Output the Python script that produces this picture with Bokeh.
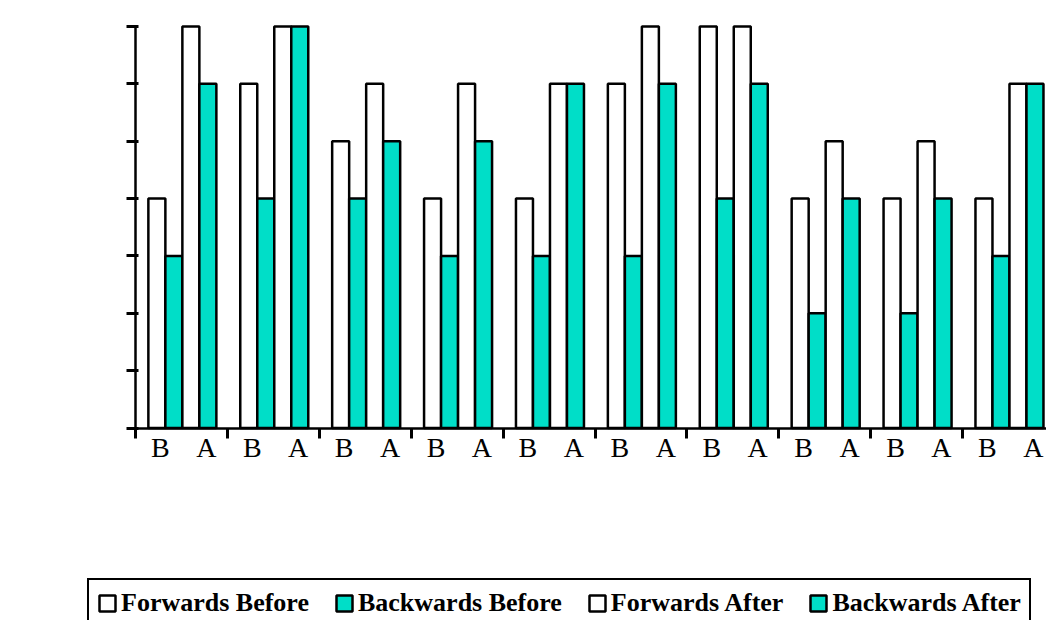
import numpy as np
from bokeh.plotting import figure
from bokeh.models import (Range1d, FixedTicker, CustomJSTickFormatter, Legend,
                          LegendItem, ColumnDataSource, LinearAxis)
from bokeh.core.properties import value
from bokeh.embed import file_html
from bokeh.resources import INLINE

# ---- data -------------------------------------------------------------
groups = list(range(10))
forwards_before = [4, 6, 5, 4, 4, 6, 7, 4, 4, 4]
backwards_before = [3, 4, 4, 3, 3, 3, 4, 2, 2, 3]
forwards_after = [7, 7, 6, 6, 6, 7, 7, 5, 5, 6]
backwards_after = [6, 7, 5, 5, 6, 6, 6, 4, 4, 6]
series_names = ["Forwards Before", "Backwards Before", "Forwards After", "Backwards After"]
sub_labels = ["B", "A"]          # before / after marker under each pair
y_ticks = list(range(8))
y_max = 7

TEAL = "#00DEC8"
series = [forwards_before, backwards_before, forwards_after, backwards_after]
fills = ["white", TEAL, "white", TEAL]

BAR_W = 0.185
offsets = [-1.5 * BAR_W, -0.5 * BAR_W, 0.5 * BAR_W, 1.5 * BAR_W]

# The frame covers the whole lower part of the canvas so the labels and the
# legend under the axis line live inside it; the axes are pinned at zero.
PX_X = 91.9      # pixels per group
PX_Y = 57.357    # pixels per unit
LEFT, TOP, ZERO_X, ZERO_Y, W, H = 60, 24, 135, 427.5, 1046, 620

x_range = Range1d(-(ZERO_X - LEFT) / PX_X, (W - ZERO_X) / PX_X)
y_range = Range1d(-(H - ZERO_Y) / PX_Y, y_max + (ZERO_Y - y_max * PX_Y - TOP) / PX_Y)

p = figure(width=W, height=H, output_backend="svg", toolbar_location=None,
           x_range=x_range, y_range=y_range,
           x_axis_location=None, y_axis_location=None,
           min_border_left=LEFT, min_border_right=0,
           min_border_top=TOP, min_border_bottom=0)
p.outline_line_color = None
p.background_fill_color = "white"
p.border_fill_color = "white"
p.xgrid.visible = False
p.ygrid.visible = False

renderers = []
gx = np.array(groups, dtype=float) + 0.51
for vals, fill, off in zip(series, fills, offsets):
    src = ColumnDataSource(dict(x=gx + off, top=vals))
    r = p.vbar(x="x", top="top", width=BAR_W, source=src,
               fill_color=fill, line_color="black", line_width=2.5)
    renderers.append(r)

# ---- y axis -----------------------------------------------------------
yax = LinearAxis(fixed_location=0, bounds=(0, y_max),
                 ticker=FixedTicker(ticks=y_ticks),
                 formatter=CustomJSTickFormatter(code="return '';"))
yax.axis_line_width = 2.5
yax.axis_line_color = "black"
yax.major_tick_line_width = 3
yax.major_tick_out = 9
yax.major_tick_in = 3
yax.minor_tick_line_color = None
p.add_layout(yax, "left")

# ---- x axis line with group boundary ticks pointing down ----------------
xax = LinearAxis(fixed_location=0, bounds=(0, x_range.end),
                 ticker=FixedTicker(ticks=[], minor_ticks=groups),
                 formatter=CustomJSTickFormatter(code="return '';"))
xax.axis_line_width = 2.5
xax.axis_line_color = "black"
xax.major_tick_line_color = None
xax.minor_tick_line_color = "black"
xax.minor_tick_line_width = 3
xax.minor_tick_out = 0
xax.minor_tick_in = 10
p.add_layout(xax, "above")

# ---- B / A labels under each group ---------------------------------------
lab_x = [g + 0.27 for g in groups] + [g + 0.77 for g in groups]
lab_t = [sub_labels[0]] * len(groups) + [sub_labels[1]] * len(groups)
lab_src = ColumnDataSource(dict(x=lab_x, y=[0] * len(lab_x), t=lab_t))
p.text(x="x", y="y", text="t", source=lab_src, y_offset=4,
       text_align="center", text_baseline="top",
       text_font=value("Liberation Serif"), text_font_size="28px",
       text_color="black")

# ---- legend ---------------------------------------------------------------
legend = Legend(
    items=[LegendItem(label=n, renderers=[r]) for n, r in zip(series_names, renderers)],
    orientation="horizontal", location=(87 - LEFT, -8), margin=0,
    padding=8, spacing=25, label_standoff=4,
    glyph_width=20, glyph_height=20, label_height=26,
    label_text_font="Liberation Serif", label_text_font_style="bold",
    label_text_font_size="26px", label_text_color="black",
    border_line_color="black", border_line_width=2.5, border_line_alpha=1.0,
    background_fill_color="white", background_fill_alpha=1.0)
p.add_layout(legend, "center")

open("out.html", "w").write(file_html(p, INLINE))
